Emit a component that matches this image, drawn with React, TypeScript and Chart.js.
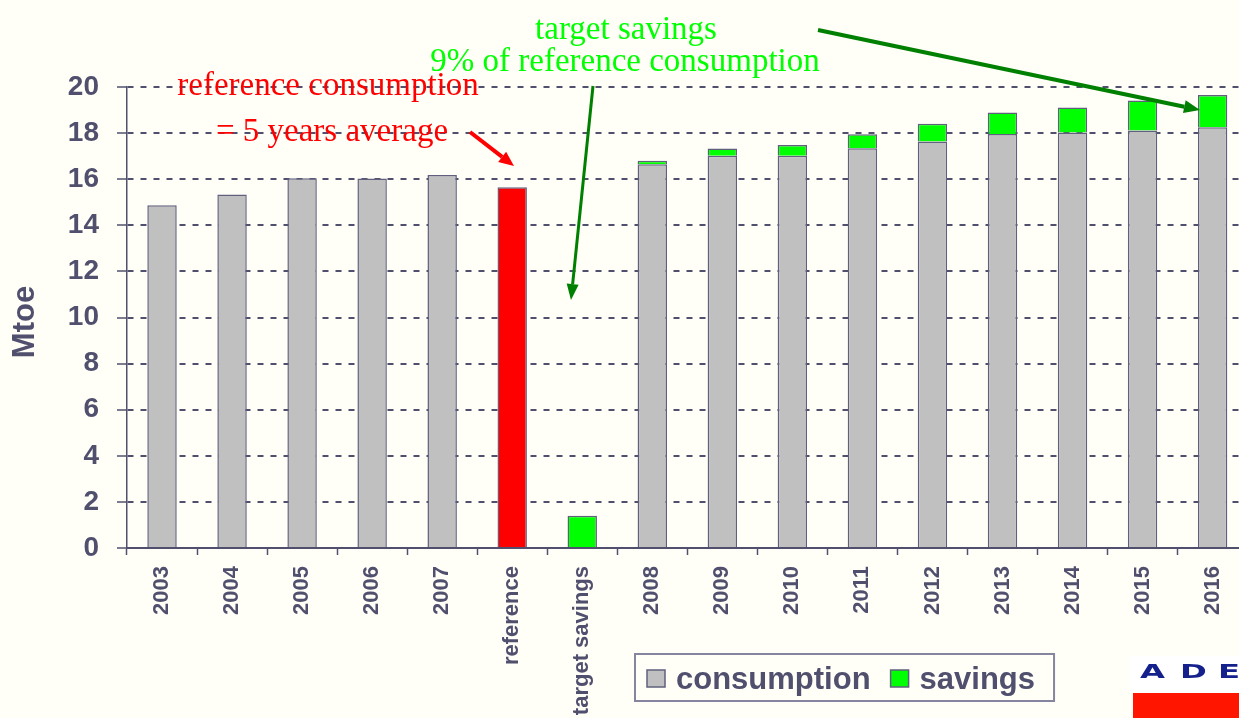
import { useEffect, useRef } from 'react';
import { Chart, registerables } from 'chart.js';

Chart.register(...registerables);

const categories = [
  '2003', '2004', '2005', '2006', '2007', 'reference', 'target savings',
  '2008', '2009', '2010', '2011', '2012', '2013', '2014', '2015', '2016',
];
const consumption = [
  14.87, 15.34, 16.04, 16.03, 16.18, 15.65, null,
  16.65, 17.02, 17.02, 17.34, 17.64, 17.96, 18.03, 18.11, 18.25,
];
const savings = [
  null, null, null, null, null, null, 1.4,
  0.15, 0.31, 0.46, 0.61, 0.77, 0.93, 1.08, 1.3, 1.4,
];
const yMin = 0;
const yMax = 20;
const yStep = 2;
const yTitle = 'Mtoe';

const INK = '#50506E';
const EDGE = '#60607E';
const BG = '#FFFEF7';
const GRAY = '#C0C0C0';
const RED = '#FF0000';
const LIME = '#00FF00';
const DARKGREEN = '#008000';

const W = 1250;
const H = 718;

function arrow(ctx: CanvasRenderingContext2D, x1: number, y1: number, x2: number, y2: number, color: string, width: number, headLen: number, headW: number) {
  const ang = Math.atan2(y2 - y1, x2 - x1);
  const bx = x2 - headLen * Math.cos(ang);
  const by = y2 - headLen * Math.sin(ang);
  ctx.save();
  ctx.strokeStyle = color;
  ctx.fillStyle = color;
  ctx.lineWidth = width;
  ctx.lineCap = 'butt';
  ctx.beginPath();
  ctx.moveTo(x1, y1);
  ctx.lineTo(bx, by);
  ctx.stroke();
  const px = -Math.sin(ang) * headW / 2;
  const py = Math.cos(ang) * headW / 2;
  ctx.beginPath();
  ctx.moveTo(x2, y2);
  ctx.lineTo(bx + px, by + py);
  ctx.lineTo(bx - px, by - py);
  ctx.closePath();
  ctx.fill();
  ctx.restore();
}

export default function App() {
  const ref = useRef<HTMLCanvasElement>(null);

  useEffect(() => {
    const canvas = ref.current;
    if (!canvas) return;

    const bgPlugin = {
      id: 'bg',
      beforeDraw(chart: any) {
        const ctx = chart.ctx;
        ctx.save();
        ctx.fillStyle = BG;
        ctx.fillRect(0, 0, chart.width, chart.height);
        ctx.restore();
      },
    };

    const overlay = {
      id: 'overlay',
      afterDraw(chart: any) {
        const ctx: CanvasRenderingContext2D = chart.ctx;
        ctx.save();

        // y axis title
        ctx.save();
        ctx.translate(25, 322);
        ctx.rotate(-Math.PI / 2);
        ctx.font = 'bold 31px "Liberation Sans"';
        ctx.fillStyle = INK;
        ctx.textAlign = 'center';
        ctx.textBaseline = 'middle';
        ctx.fillText(yTitle, 0, 0);
        ctx.restore();

        // annotation texts
        ctx.font = '33px "Liberation Serif"';
        ctx.textAlign = 'center';
        ctx.textBaseline = 'alphabetic';
        ctx.fillStyle = RED;
        ctx.fillText('reference consumption', 328, 95);
        ctx.fillText('= 5 years average', 332, 141);
        ctx.fillStyle = LIME;
        ctx.fillText('target savings', 626, 39);
        ctx.fillText('9% of reference consumption', 625, 71);

        // arrows
        arrow(ctx, 470, 132, 514, 166, RED, 4, 15, 13);
        arrow(ctx, 593, 86, 571, 300, DARKGREEN, 3, 16, 12);
        arrow(ctx, 818, 30, 1200, 110, DARKGREEN, 4, 16, 13);

        // legend
        const ds = chart.data.datasets;
        const colors = [GRAY, LIME];
        ctx.font = 'bold 31px "Liberation Sans"';
        ctx.textAlign = 'left';
        ctx.textBaseline = 'alphabetic';
        const left = 635;
        const top = 654;
        const boxH = 47;
        let x = left + 12;
        const items: { bx: number; tx: number; label: string; color: string }[] = [];
        ds.forEach((d: any, i: number) => {
          const label = d.label as string;
          const tw = ctx.measureText(label).width;
          items.push({ bx: x, tx: x + 29, label, color: colors[i] });
          x = x + 29 + tw + 20;
        });
        const right = x - 20 + 19;
        ctx.lineWidth = 2;
        ctx.strokeStyle = '#8585A0';
        ctx.strokeRect(left, top, right - left, boxH);
        items.forEach((it) => {
          ctx.fillStyle = it.color;
          ctx.fillRect(it.bx, 670, 18, 17);
          ctx.lineWidth = 1.5;
          ctx.strokeStyle = EDGE;
          ctx.strokeRect(it.bx, 670, 18, 17);
          ctx.fillStyle = INK;
          ctx.fillText(it.label, it.tx, 689);
        });

        // logo fragment
        ctx.fillStyle = '#FFFFFF';
        ctx.fillRect(1129, 656, 120, 36);
        ctx.fillStyle = '#FF1500';
        ctx.fillRect(1133, 693, 120, 30);
        ctx.fillStyle = '#14208C';
        ctx.font = 'bold 19px "DejaVu Sans"';
        const letters = ['A', 'D', 'E'];
        const lx = [1140, 1180, 1218];
        letters.forEach((L, i) => {
          ctx.save();
          ctx.translate(lx[i], 678);
          ctx.scale(1.7, 1);
          ctx.fillText(L, 0, 0);
          ctx.restore();
        });

        ctx.restore();
      },
    };

    const chart = new Chart(canvas, {
      type: 'bar',
      data: {
        labels: categories,
        datasets: [
          {
            label: 'consumption',
            data: consumption,
            backgroundColor: categories.map((c) => (c === 'reference' ? RED : GRAY)),
            borderColor: EDGE,
            borderWidth: 1.5,
            barPercentage: 0.42,
            categoryPercentage: 1,
          },
          {
            label: 'savings',
            data: savings,
            backgroundColor: LIME,
            borderColor: EDGE,
            borderWidth: 1.5,
            barPercentage: 0.42,
            categoryPercentage: 1,
          },
        ],
      },
      options: {
        responsive: false,
        animation: false,
        devicePixelRatio: 1,
        layout: { padding: { top: 87, left: 0, right: 0, bottom: 0 } },
        plugins: {
          legend: { display: false },
          tooltip: { enabled: false },
        },
        scales: {
          x: {
            stacked: true,
            grid: {
              drawOnChartArea: false,
              drawTicks: true,
              tickLength: 7,
              color: INK,
              tickColor: INK,
              tickWidth: 1.5,
            },
            border: { display: true, color: INK, width: 2 },
            ticks: {
              autoSkip: false,
              maxRotation: 90,
              minRotation: 90,
              padding: 11,
              color: INK,
              font: { family: 'Liberation Sans', size: 22, weight: 'bold' },
            },
            afterFit(s: any) {
              s.height = H - 548;
            },
          },
          y: {
            stacked: true,
            min: yMin,
            max: yMax,
            ticks: {
              stepSize: yStep,
              padding: 18,
              color: INK,
              font: { family: 'Liberation Sans', size: 28, weight: 'bold' },
            },
            grid: {
              color: INK,
              lineWidth: 2,
              tickLength: 10,
              tickColor: INK,
              tickWidth: 1.5,
            },
            border: { display: true, color: INK, width: 1.5, dash: [6, 7] },
            title: { display: false },
            afterFit(s: any) {
              s.width = 127;
            },
          },
        },
      } as any,
      plugins: [bgPlugin, overlay],
    });

    return () => chart.destroy();
  }, []);

  return (
    <div
      style={{
        position: 'fixed',
        left: 0,
        top: 0,
        width: 1239,
        height: 718,
        overflow: 'hidden',
        background: BG,
      }}
    >
      <canvas ref={ref} width={W} height={H} style={{ display: 'block', width: W, height: H }} />
    </div>
  );
}
